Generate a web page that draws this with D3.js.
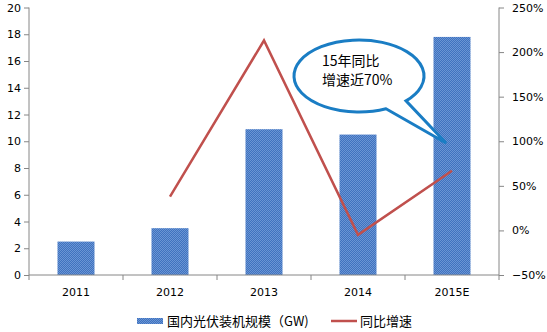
<!DOCTYPE html>
<html><head><meta charset="utf-8">
<script src="https://cdn.jsdelivr.net/npm/d3@7"></script>
<style>body{margin:0;background:#fff}svg{display:block}</style>
</head><body>
<svg id="c" width="547" height="332"></svg>
<script>
const categories = ["2011","2012","2013","2014","2015E"];
const capacity = [2.5, 3.5, 10.9, 10.5, 17.8];
const growth = [null, 0.38, 2.13, -0.05, 0.67];
const leftTicks = [0,2,4,6,8,10,12,14,16,18,20];
const rightTicks = [-0.5,0,0.5,1,1.5,2,2.5];
const barName = "国内光伏装机规模（GW)";
const lineName = "同比增速";
const calloutLines = ["15年同比","增速近70%"];

const svg = d3.select("#c");
const L = 29, R = 499, T = 7.5, B = 275;
const font = "Verdana, 'DejaVu Sans', sans-serif";
const xb = d3.scaleBand().domain(categories).range([L, R]);
const yL = d3.scaleLinear().domain([0, 20]).range([B, T]);
const yR = d3.scaleLinear().domain([-0.5, 2.5]).range([B, T]);

const defs = svg.append("defs");
const pat = defs.append("pattern").attr("id","p").attr("width",2).attr("height",2).attr("patternUnits","userSpaceOnUse");
pat.append("rect").attr("width",2).attr("height",2).attr("fill","#3f72bf");
pat.append("rect").attr("width",1).attr("height",1).attr("fill","#6a95d4");
pat.append("rect").attr("x",1).attr("y",1).attr("width",1).attr("height",1).attr("fill","#6a95d4");

// bars
svg.selectAll("rect.bar").data(categories).enter().append("rect")
  .attr("x", d => xb(d) + xb.bandwidth()/2 - 18.5)
  .attr("width", 37)
  .attr("y", (d,i) => yL(capacity[i]))
  .attr("height", (d,i) => B - yL(capacity[i]))
  .attr("fill","url(#p)");

// axes
const axisColor = "#868686";
const gl = svg.append("g").attr("transform",`translate(${L},0)`)
  .call(d3.axisLeft(yL).tickValues(leftTicks).tickSize(5).tickPadding(3));
const gr = svg.append("g").attr("transform",`translate(${R},0)`)
  .call(d3.axisRight(yR).tickValues(rightTicks).tickSize(5).tickPadding(8).tickFormat(d3.format(".0%")));
const gx = svg.append("g").attr("transform",`translate(0,${B})`)
  .call(d3.axisBottom(xb).tickSize(0).tickPadding(13));
svg.append("g").selectAll("line").data(d3.range(6)).enter().append("line")
  .attr("x1", i => L + i*xb.bandwidth()).attr("x2", i => L + i*xb.bandwidth())
  .attr("y1", B).attr("y2", B+5).attr("stroke", axisColor);
[gl, gr, gx].forEach(g => {
  g.select(".domain").attr("stroke", axisColor);
  g.selectAll(".tick line").attr("stroke", axisColor);
  g.selectAll("text").attr("font-family", font).attr("font-size", 11).attr("fill","#000");
});
gl.select(".domain").attr("d", `M0,${T}V${B}`);
gr.select(".domain").attr("d", `M0,${T}V${B}`);
gx.select(".domain").attr("d", `M${L},0H${R}`);

// line
const pts = categories.map((c,i) => [xb(c)+xb.bandwidth()/2, growth[i]]).filter(p => p[1] !== null);
svg.append("path").datum(pts)
  .attr("d", d3.line().x(d => d[0]).y(d => yR(d[1])))
  .attr("fill","none").attr("stroke","#c0504d").attr("stroke-width",2.5);

// callout
const cx = 359, cy = 76, rx = 65, ry = 36;
const tip = [xb("2015E")+xb.bandwidth()/2 - 6, yR(0.98)];
function ang(px){ return Math.acos((px-cx)/rx); }
const a1 = ang(386), a2 = ang(406);
const p1 = [cx + rx*Math.cos(a1), cy + ry*Math.sin(a1)];
const p2 = [cx + rx*Math.cos(a2), cy + ry*Math.sin(a2)];
const pathD = `M${p2[0]},${p2[1]} A${rx},${ry} 0 1 0 ${p1[0]},${p1[1]} L${tip[0]},${tip[1]} Z`;
svg.append("path").attr("d", pathD).attr("fill","#fff").attr("stroke","#1a7dc4").attr("stroke-width",3).attr("stroke-linejoin","miter");
svg.append("g").selectAll("text").data(calloutLines).enter().append("text")
  .attr("x", 322).attr("y", (d,i) => 66 + i*19)
  .attr("font-family","'Noto Sans CJK SC', sans-serif").attr("font-size",14).attr("fill","#000")
  .text(d => d);

// legend
const ly = 321;
svg.append("rect").attr("x",137).attr("y",ly-3).attr("width",26).attr("height",6).attr("fill","url(#p)");
svg.append("text").attr("x",167).attr("y",ly+5).attr("font-family","'Noto Sans CJK SC', sans-serif").attr("font-size",13).text(barName);
svg.append("line").attr("x1",331).attr("x2",357).attr("y1",ly).attr("y2",ly).attr("stroke","#c0504d").attr("stroke-width",2.5);
svg.append("text").attr("x",360).attr("y",ly+5).attr("font-family","'Noto Sans CJK SC', sans-serif").attr("font-size",13).text(lineName);
</script>
</body></html>
